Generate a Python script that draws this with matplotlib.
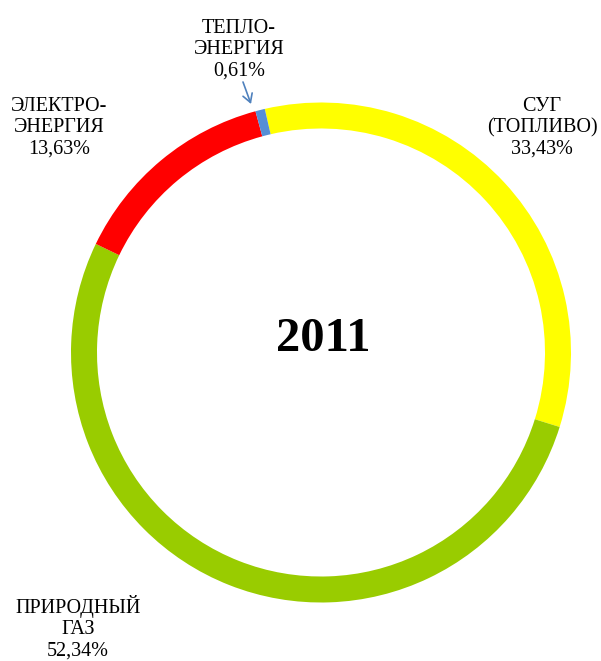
import matplotlib
matplotlib.use('Agg')
from matplotlib import pyplot as plt

# данные: структура потребления ТЭР, 2011
labels = ['СУГ\n(ТОПЛИВО)', 'ПРИРОДНЫЙ\nГАЗ', 'ЭЛЕКТРО-\nЭНЕРГИЯ', 'ТЕПЛО-\nЭНЕРГИЯ']
shares = [33.43, 52.34, 13.63, 0.61]
colors = ['#FFFF00', '#99CC00', '#FF0000', '#558ED5']
year = '2011'

# позиции подписей в пикселях (x, y сверху)
label_pos = [(542, 128), (78, 628), (59, 128), (239, 50)]

W, H = 601, 661
plt.rcParams['font.family'] = ['Liberation Serif', 'DejaVu Serif']

fig = plt.figure(figsize=(W / 100, H / 100), dpi=100)
ax = fig.add_axes([0, 0, 1, 1])

# кольцо
ax.pie(shares, colors=colors, startangle=103, counterclock=False,
       radius=250, center=(321, H - 352.5),
       wedgeprops=dict(width=26, edgecolor='none'))

# подписи долей
for lab, val, (px, py) in zip(labels, shares, label_pos):
    txt = lab + '\n' + f'{val:.2f}%'.replace('.', ',')
    ax.text(px, H - py, txt, ha='center', va='center', fontsize=14.5,
            linespacing=1.15, color='black')

# стрелка к маленькому сегменту
ax.annotate('', xy=(251, H - 104), xytext=(243, H - 82),
            arrowprops=dict(arrowstyle='->,head_length=0.6,head_width=0.35',
                            color='#4F81BD', lw=1.2, shrinkA=0, shrinkB=0))

# год в центре
ax.text(323, H - 339, year, ha='center', va='center', fontsize=35,
        fontweight='bold')

ax.set_xlim(0, W)
ax.set_ylim(0, H)
ax.set_aspect('equal')
ax.axis('off')

plt.savefig('out.png', dpi=100)
